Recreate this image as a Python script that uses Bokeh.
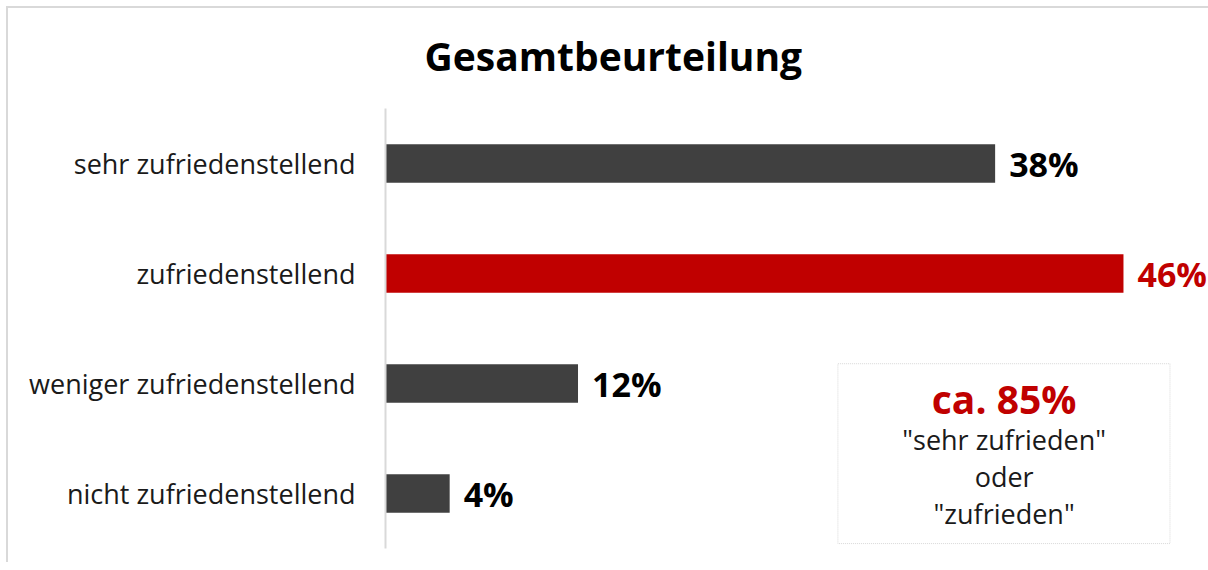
from bokeh.plotting import figure
from bokeh.models import FactorRange, ColumnDataSource, Label, BoxAnnotation, InlineStyleSheet
from bokeh.core.properties import value
from bokeh.embed import file_html
from bokeh.resources import INLINE

categories = ["sehr zufriedenstellend", "zufriedenstellend",
              "weniger zufriedenstellend", "nicht zufriedenstellend"]
values = [38, 46, 12, 4]
labels = ["38%", "46%", "12%", "4%"]
bar_colors = ["#404040", "#C00000", "#404040", "#404040"]
label_colors = ["#000000", "#C00000", "#000000", "#000000"]
title_text = "Gesamtbeurteilung"
note_big = "ca. 85%"
note_lines = ['"sehr zufrieden"', "oder", '"zufrieden"']

FONT = "Open Sans"

src = ColumnDataSource(dict(cat=categories, val=values, lab=labels,
                            bc=bar_colors, lc=label_colors))

p = figure(width=1208, height=562, output_backend="svg", toolbar_location=None,
           y_range=FactorRange(factors=list(reversed(categories))),
           x_range=(0, 51.3),
           min_border_left=385, min_border_right=0,
           min_border_top=108, min_border_bottom=14)
p.title.text = title_text
p.title.align = "left"
p.title.offset = 39
p.title.standoff = 53
p.title.text_font = FONT
p.title.text_font_size = "39px"
p.title.text_font_style = "bold"
p.title.text_color = "#000000"

p.border_fill_color = None
p.background_fill_color = None
p.stylesheets = [InlineStyleSheet(css=(
    ":host { background:"
    " linear-gradient(#d9d9d9,#d9d9d9) 6px 6px / 100% 2px no-repeat,"
    " linear-gradient(#d9d9d9,#d9d9d9) 6px 6px / 2px 100% no-repeat,"
    " #ffffff; }"))]

p.outline_line_color = None
p.xgrid.visible = False
p.ygrid.visible = False
p.xaxis.visible = False
p.yaxis.axis_line_color = "#d9d9d9"
p.yaxis.axis_line_width = 2
p.yaxis.major_tick_line_color = None
p.yaxis.minor_tick_line_color = None
p.yaxis.major_label_text_font = FONT
p.yaxis.major_label_text_font_size = "27px"
p.yaxis.major_label_text_color = "#1a1a1a"
p.yaxis.major_label_standoff = 24

p.hbar(y="cat", right="val", left=0, height=0.35, fill_color="bc",
       line_color=None, source=src)
p.text(x="val", y="cat", text="lab", text_color="lc", x_offset=14,
       text_baseline="middle", text_align="left", text_font=value(FONT),
       text_font_size="34px", text_font_style="bold", source=src)

p.add_layout(BoxAnnotation(left=28.2, right=48.9, bottom=0.045, top=1.68,
                           fill_alpha=0, line_color="#808080", line_width=1,
                           line_dash="1 1"))

cx = 38.56
p.add_layout(Label(x=cx, y=1.363, text=note_big, text_align="center",
                   text_baseline="alphabetic", text_font=FONT, text_font_size="39px",
                   text_font_style="bold", text_color="#C00000"))
for i, t in enumerate(note_lines):
    p.add_layout(Label(x=cx, y=0.991 - i * 0.336, text=t, text_align="center",
                       text_baseline="alphabetic", text_font=FONT,
                       text_font_size="27px", text_color="#1a1a1a"))

open("out.html", "w").write(file_html(p, INLINE))
